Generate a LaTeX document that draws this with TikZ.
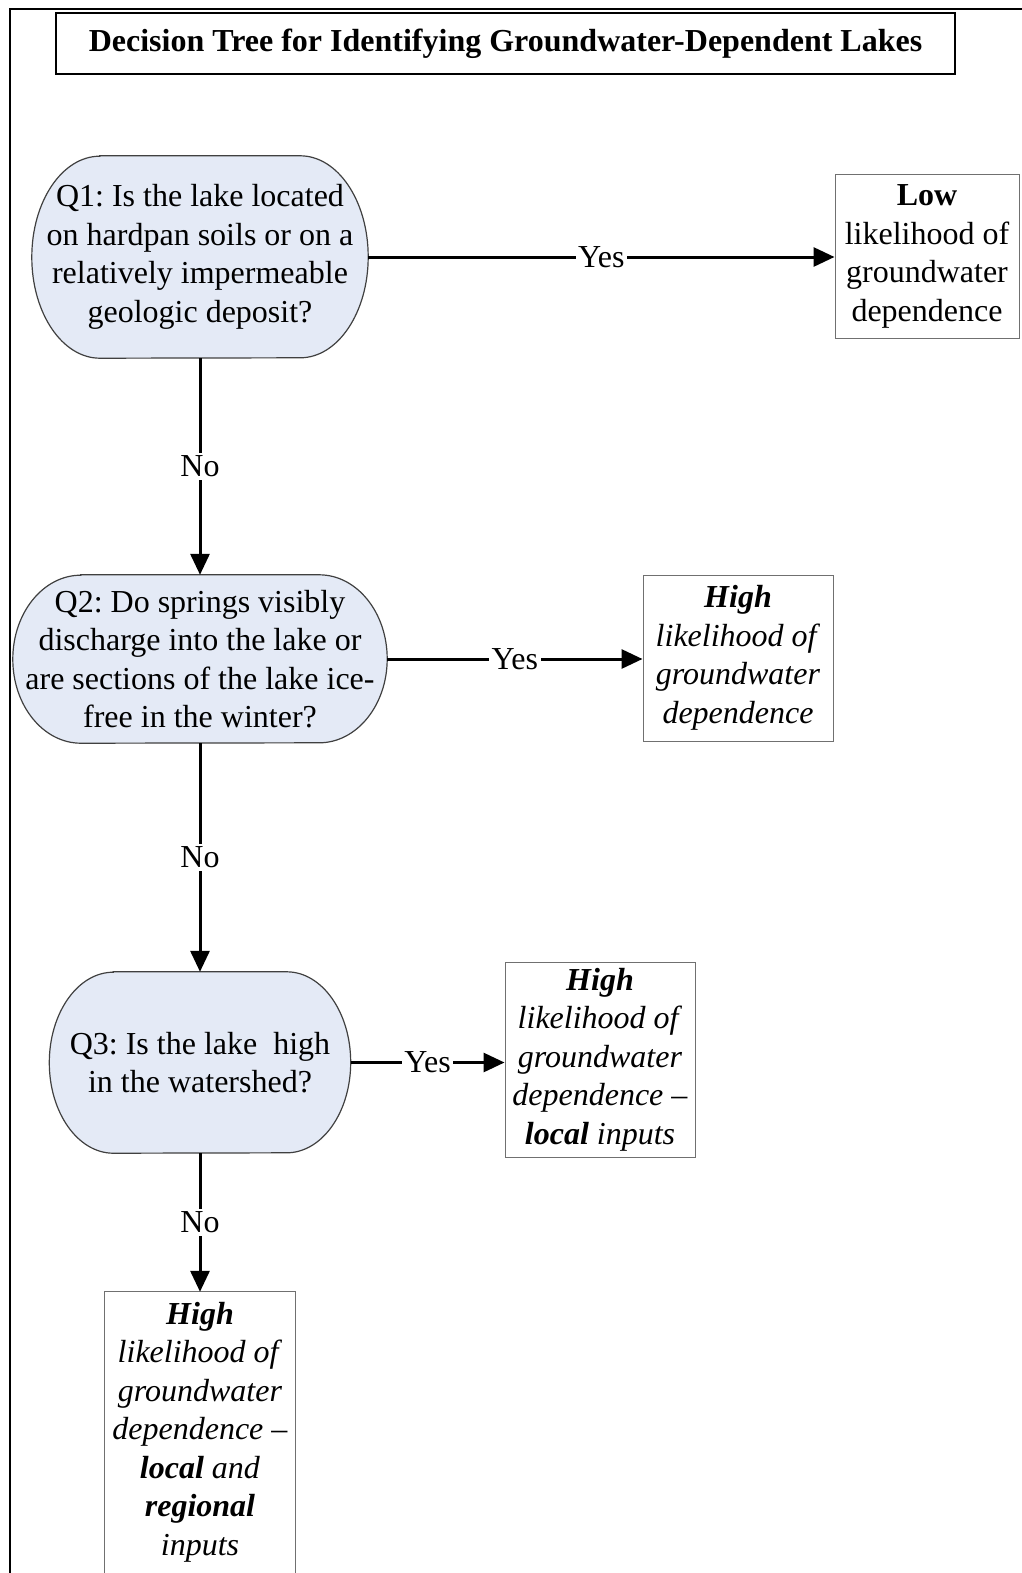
\documentclass[tikz,border=0pt]{standalone}
\usepackage{fontspec}
\setmainfont{Liberation Serif}
\frenchspacing
\usetikzlibrary{arrows.meta}
\definecolor{qfill}{HTML}{E4EAF6}
\definecolor{qedge}{HTML}{404040}
\definecolor{boxedge}{HTML}{707070}
\pgfdeclarelayer{background}
\pgfsetlayers{background,main}

% rounded terminator outline behind a question node: name, corner x radius, half height
\newcommand\qoutline[3]{%
  \begin{pgfonlayer}{background}
  \draw[qedge, fill=qfill, line width=1.2pt]
    ([xshift=#2pt]#1.north west) -- ([xshift=-#2pt]#1.north east)
    arc[start angle=90, end angle=-90, x radius=#2pt, y radius=#3pt]
    -- ([xshift=#2pt]#1.south west)
    arc[start angle=270, end angle=90, x radius=#2pt, y radius=#3pt] -- cycle;
  \end{pgfonlayer}}

\begin{document}
\begin{tikzpicture}[x=1pt, y=-1pt,
  every node/.style={font=\fontsize{32}{38.5}\selectfont},
  question/.style={inner sep=0pt, align=center},
  outcome/.style={draw=boxedge, line width=1pt, fill=white, inner sep=0pt, align=center},
  flow/.style={line width=3pt, -{Triangle[length=21pt, width=19pt]}},
  answer/.style={fill=white, inner sep=2.5pt, midway},
]
\useasboundingbox (0,0) rectangle (1021,1573);

% page frame
\draw[line width=2.2pt] (10.3,1590) -- (10.3,9.3) -- (1040,9.3);

% title
\node[draw, line width=1.3pt, minimum width=899pt, minimum height=61pt, inner sep=0pt,
      font=\bfseries\fontsize{32}{38.5}\selectfont] (title) at (505.5,43.5)
  {Decision Tree for Identifying Groundwater-Dependent Lakes};

% questions
\node[question, minimum width=336pt, minimum height=202pt] (q1) at (200,257)
  {Q1: Is the lake located\\on hardpan soils or on a\\relatively impermeable\\geologic deposit?};
\qoutline{q1}{68}{101}

\node[question, minimum width=374pt, minimum height=168pt] (q2) at (200,659)
  {Q2: Do springs visibly\\discharge into the lake or\\are sections of the lake ice-\\free in the winter?};
\qoutline{q2}{68}{84}

\node[question, minimum width=301pt, minimum height=181pt] (q3) at (200,1062.5)
  {Q3: Is the lake\ \ high\\in the watershed?};
\qoutline{q3}{64}{90.5}

% outcomes
\node[outcome, minimum width=184pt, minimum height=163pt] (low) at (927,256.5)
  {\textbf{Low}\\likelihood of\\groundwater\\dependence};

\node[outcome, minimum width=190pt, minimum height=166pt] (high2) at (738,658)
  {\textbf{\textit{High}}\\\textit{likelihood of}\\\textit{groundwater}\\\textit{dependence}};

\node[outcome, minimum width=190pt, minimum height=195pt] (high3) at (600,1059.5)
  {\textbf{\textit{High}}\\\textit{likelihood of}\\\textit{groundwater}\\\textit{dependence –}\\\textbf{\textit{local}} \textit{inputs}};

\node[question, minimum width=191pt, minimum height=276pt] (high4) at (200,1432)
  {\textbf{\textit{High}}\\\textit{likelihood of}\\\textit{groundwater}\\\textit{dependence –}\\\textbf{\textit{local}} \textit{and}\\\textbf{\textit{regional}}\\\textit{inputs}};
\draw[draw=boxedge, line width=1pt]
  ([yshift=-30pt]high4.south west) -- ([yshift=2pt]high4.north west) -- ([yshift=2pt]high4.north east) -- ([yshift=-30pt]high4.south east);

% connectors
\draw[flow] (q1.east) -- (q1.east -| low.west) node[answer] {Yes};
\draw[flow] (q1.south) -- (q1.south |- q2.north) node[answer] {No};
\draw[flow] (q2.east) -- (q2.east -| high2.west) node[answer] {Yes};
\draw[flow] (q2.south) -- (q2.south |- q3.north) node[answer] {No};
\draw[flow] (q3.east) -- (q3.east -| high3.west) node[answer] {Yes};
\draw[flow] (q3.south) -- ([yshift=2pt]q3.south |- high4.north) node[answer] {No};
\end{tikzpicture}
\end{document}
